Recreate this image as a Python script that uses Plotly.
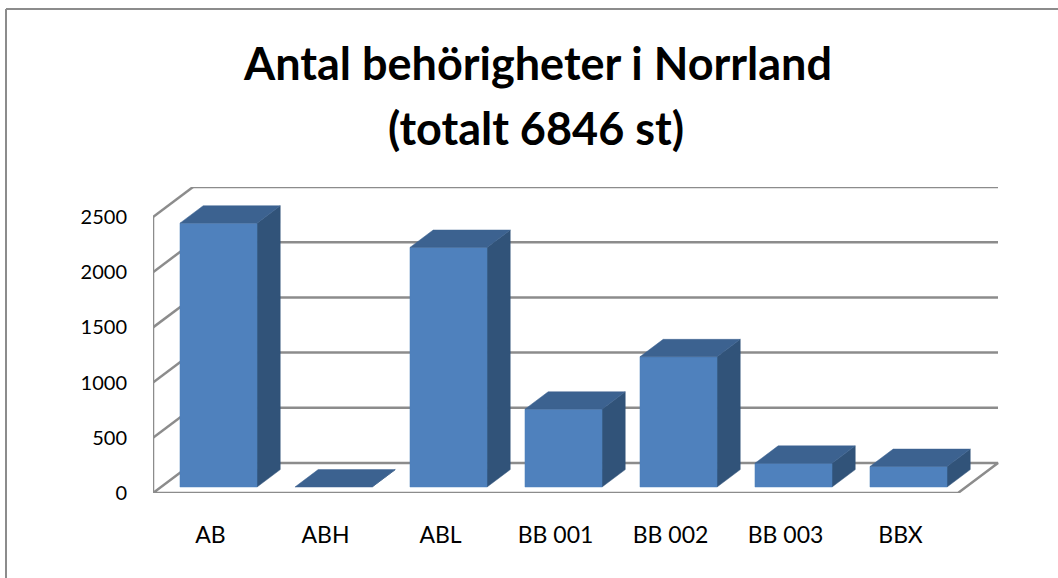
import plotly.graph_objects as go

# ---- data ----
categories = ["AB", "ABH", "ABL", "BB 001", "BB 002", "BB 003", "BBX"]
values = [2390, 0, 2170, 705, 1180, 215, 186]
y_ticks = [0, 500, 1000, 1500, 2000, 2500]
title_line1 = "Antal behörigheter i Norrland"
title_line2 = "(totalt 6846 st)"

# ---- geometry / style (pixel layout of the oblique 3D box) ----
W, H = 1058, 578
PL, PR, PT, PB = 153, 999, 187, 493      # plot-area box in pixels
CAT_PX = 115.0                            # pixels per category on the front plane
UNIT_PX = 276.0 / 2500.0                  # pixels per value unit
DEPTH_X_PX, DEPTH_Y_PX = 40.0, 30.0       # oblique depth offset of the back wall

DXd = DEPTH_X_PX / CAT_PX
DYd = DEPTH_Y_PX / UNIT_PX
x_range = [-0.5, -0.5 + (PR - PL) / CAT_PX]
y_range = [0, (PB - PT) / UNIT_PX]
n = len(categories)
x_left, x_right = -0.5, n - 0.5

GRID = "#8C8C8C"
FRONT = "#4F81BD"
TOP = "#3C6290"
SIDE = "#315379"
FONT = "Lato"

fig = go.Figure()


def poly(xs, ys, color):
    fig.add_trace(go.Scatter(x=xs, y=ys, mode="lines", fill="toself",
                             fillcolor=color, line=dict(color=color, width=0.5),
                             hoverinfo="skip", showlegend=False))


def line(xs, ys):
    fig.add_trace(go.Scatter(x=xs, y=ys, mode="lines",
                             line=dict(color=GRID, width=2.5),
                             hoverinfo="skip", showlegend=False))


# back-wall gridlines and left-wall diagonals
for v in y_ticks:
    if v == 0:
        continue
    line([x_left + DXd, x_right + DXd], [v + DYd, v + DYd])
    line([x_left, x_left + DXd], [v, v + DYd])
# left wall front edge
line([x_left, x_left], [0, y_ticks[-1]])
# floor outline
line([x_left, x_right, x_right + DXd, x_left + DXd, x_left],
     [0, 0, DYd, DYd, 0])

# bars
D0, D1 = 0.2, 0.78
HALF = 0.335
for i, v in enumerate(values):
    xl = i - HALF + D0 * DXd
    xr = i + HALF + D0 * DXd
    yb = D0 * DYd
    yt = v + D0 * DYd
    dx = (D1 - D0) * DXd
    dy = (D1 - D0) * DYd
    # side face
    poly([xr, xr, xr + dx, xr + dx, xr], [yb, yt, yt + dy, yb + dy, yb], SIDE)
    # front face
    if v > 0:
        poly([xl, xr, xr, xl, xl], [yb, yb, yt, yt, yb], FRONT)
    # top face
    poly([xl, xr, xr + dx, xl + dx, xl], [yt, yt, yt + dy, yt + dy, yt], TOP)


def px_to_paper_x(px):
    return (px - PL) / (PR - PL)


def px_to_paper_y(py):
    return (PB - py) / (PB - PT)


# titles
fig.add_annotation(text=title_line1, xref="paper", yref="paper",
                   x=px_to_paper_x(537), y=px_to_paper_y(63),
                   xanchor="center", yanchor="middle", showarrow=False,
                   font=dict(family=FONT, size=45, color="black", weight="bold"))
fig.add_annotation(text=title_line2, xref="paper", yref="paper",
                   x=px_to_paper_x(536), y=px_to_paper_y(128),
                   xanchor="center", yanchor="middle", showarrow=False,
                   font=dict(family=FONT, size=45, color="black", weight="bold"))

# chart border (left and top visible)
fig.add_shape(type="line", xref="paper", yref="paper",
              x0=px_to_paper_x(6), x1=px_to_paper_x(6),
              y0=px_to_paper_y(9), y1=px_to_paper_y(600),
              line=dict(color="#8C8C8C", width=2))
fig.add_shape(type="line", xref="paper", yref="paper",
              x0=px_to_paper_x(6), x1=px_to_paper_x(1070),
              y0=px_to_paper_y(9), y1=px_to_paper_y(9),
              line=dict(color="#8C8C8C", width=2))

fig.update_layout(
    width=W, height=H,
    margin=dict(l=PL, r=W - PR, t=PT, b=H - PB, autoexpand=False),
    paper_bgcolor="white", plot_bgcolor="white",
    showlegend=False,
    xaxis=dict(range=x_range, showgrid=False, zeroline=False, showline=False,
               tickvals=list(range(n)), ticktext=categories, ticks="",
               ticklabelstandoff=26, automargin=False,
               tickfont=dict(family=FONT, size=23, color="black"), fixedrange=True),
    yaxis=dict(range=y_range, showgrid=False, zeroline=False, showline=False,
               tickvals=y_ticks, ticks="", ticklabelstandoff=25, automargin=False,
               tickfont=dict(family=FONT, size=20, color="black"), fixedrange=True),
)

fig.write_html("out.html", config={"displayModeBar": False},
               post_script="document.body.style.margin='0';document.body.style.overflow='hidden';")
